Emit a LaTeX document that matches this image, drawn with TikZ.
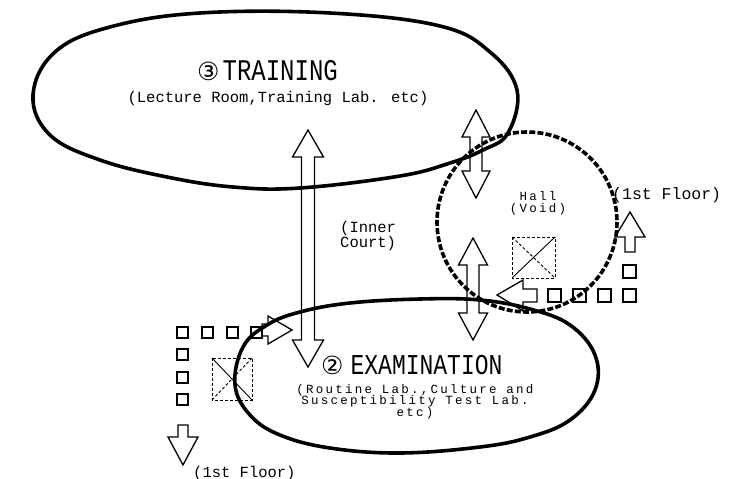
\documentclass[tikz,border=0pt]{standalone}
\usepackage{fontspec}
\newfontfamily\monofnt{Liberation Mono}
\newfontfamily\monosp[LetterSpace=18]{Liberation Mono}
\newfontfamily\dvfont{DejaVu Sans}
\newcommand\tightlines{\lineskiplimit=-20pt\relax\lineskip=0pt\relax}
\newcommand\dblarrowv[6]{% x, top tip, bottom tip, shaft half, head half, head length
  \draw[harrow] (#1,#2) -- (#1+#5,#2+#6) -- (#1+#4,#2+#6) -- (#1+#4,#3-#6) -- (#1+#5,#3-#6) -- (#1,#3)
    -- (#1-#5,#3-#6) -- (#1-#4,#3-#6) -- (#1-#4,#2+#6) -- (#1-#5,#2+#6) -- cycle;}
\begin{document}
\begin{tikzpicture}[x=1pt,y=-1pt,
  zone/.style={line width=3.6pt,line join=round},
  hallzone/.style={line width=3.6pt,dash pattern=on 6pt off 2.2pt},
  harrow/.style={line width=1.3pt,line join=miter},
  sq/.style={line width=1.6pt},
  xbox/.style={line width=0.9pt,densely dashed},
  xsolid/.style={line width=0.9pt},
  small/.style={font=\monofnt\fontsize{15.5}{11}\selectfont,inner sep=0pt},
  title/.style={font=\monofnt\fontsize{24}{24}\selectfont,inner sep=0pt}]
\useasboundingbox (0,0) rectangle (731,479);
\fill[white] (0,0) rectangle (731,479);

% zones
\draw[zone] plot[smooth cycle,tension=0.65] coordinates {(33,95) (55,52) (110,27) (200,13) (330,13) (440,26) (490,52) (517,90) (508,133) (483,150) (450,163) (400,176) (300,188) (233,187) (167,177) (100,160) (50,135)};
\draw[zone] plot[smooth cycle,tension=0.65] coordinates {(235,385) (243,347) (267,325) (300,312) (350,303) (420,299) (480,300) (530,309) (570,325) (595,355) (595,390) (570,420) (530,437) (480,447) (400,453) (330,448) (280,435) (250,415)};
\draw[hallzone] (527,222) circle[radius=90];

% texts
\node[title,anchor=base west] (trn) at (197,80) {{\dvfont\fontsize{25}{25}\selectfont ③}\hspace{3pt}\scalebox{1}[1.25]{TRAINING}};
\node[small,anchor=base] (trnsub) at (278,102) {(Lecture Room,Training Lab. etc)};
\node[title,anchor=base west] (exa) at (321,374) {{\dvfont\fontsize{25}{25}\selectfont ②}\hspace{7pt}\scalebox{1}[1.25]{\fontsize{23}{23}\selectfont EXAMINATION}};
\node[small,anchor=north,align=center,font=\monosp\fontsize{12.5}{11.5}\selectfont\tightlines] (exasub) at (415,384) {(Routine Lab.,Culture and\\Susceptibility Test Lab.\\etc)};
\node[small,anchor=north west,align=left,font=\monofnt\fontsize{15.5}{13}\selectfont] (court) at (340,221) {(Inner\\Court)};
\node[small,anchor=north,align=center,font=\monosp\fontsize{12.5}{12.5}\selectfont\tightlines] (hall) at (538,191) {Hall\\(Void)};
\node[small,anchor=base west,font=\monofnt\fontsize{16.5}{16}\selectfont] (fl1) at (612,199) {(1st Floor)};
\node[small,anchor=base west,font=\monofnt\fontsize{15.5}{16}\selectfont] (fl2) at (193,477) {(1st Floor)};

% double arrows
\dblarrowv{308}{130}{367}{6.5}{15.5}{27}
\dblarrowv{476}{110}{198}{6}{14}{27}
\dblarrowv{473}{238}{340}{6}{14.5}{27}

% single arrows
\draw[harrow] (630,212) -- (645,237) -- (635,237) -- (635,252) -- (625,252) -- (625,237) -- (615,237) -- cycle;
\draw[harrow] (497,295) -- (523,280) -- (523,289) -- (537,289) -- (537,302) -- (523,302) -- (523,311) -- cycle;
\draw[harrow] (292,330) -- (268,316) -- (268,324) -- (262,324) -- (262,336) -- (268,336) -- (268,344) -- cycle;
\draw[harrow] (183,465) -- (168,437) -- (178,437) -- (178,425) -- (188,425) -- (188,437) -- (198,437) -- cycle;

% squares
\foreach \x in {548,573,598,623} \draw[sq] (\x,289) rectangle ++(13,13);
\draw[sq] (623,265) rectangle ++(13,13);
\foreach \x in {177,202,227,251} \draw[sq] (\x,327) rectangle ++(11,11);
\foreach \y in {349,372,394} \draw[sq] (177,\y) rectangle ++(11,11);

% void boxes
\draw[xbox] (512,237) rectangle (555,278);
\draw[xsolid] (512,278) -- (555,237);
\draw[xbox] (512,237) -- (555,278);
\draw[xbox] (212,358) rectangle (252,400);
\draw[xsolid] (212,358) -- (252,400);
\draw[xbox] (212,400) -- (252,358);
\end{tikzpicture}
\end{document}
